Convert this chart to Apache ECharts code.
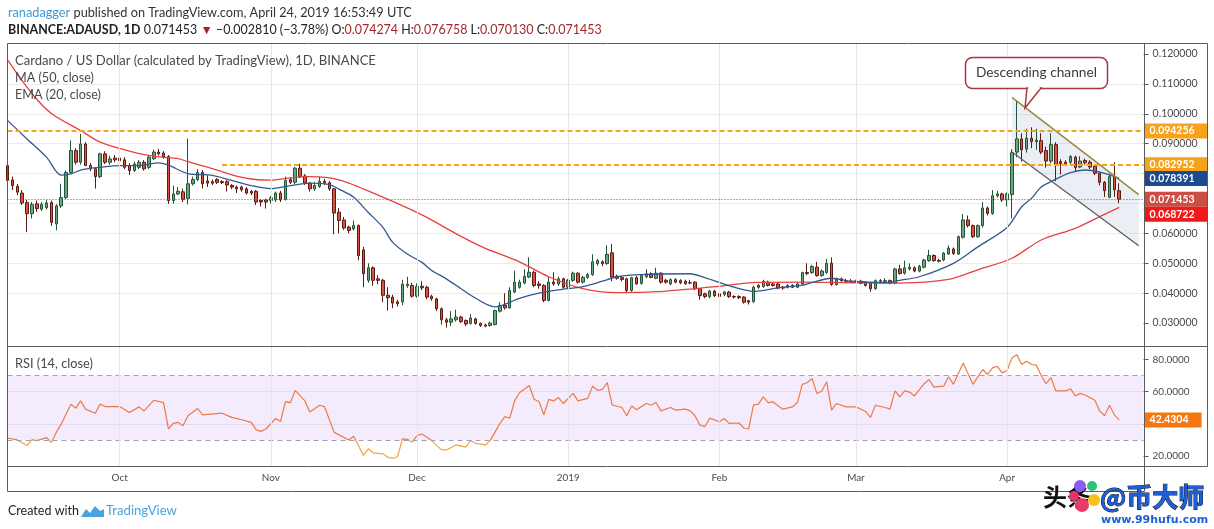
<!DOCTYPE html>
<html><head><meta charset="utf-8">
<script src="https://cdn.jsdelivr.net/npm/echarts@6/dist/echarts.min.js"></script>
<style>html,body{margin:0;padding:0;background:#fff;overflow:hidden}#chart{width:1214px;height:529px}</style>
</head><body><div id="chart"></div>
<script>
// ---------------- data ----------------
const startDate = '2018-09-08';
const dayCount = 234;
const monthNames = ['Jan','Feb','Mar','Apr','May','Jun','Jul','Aug','Sep','Oct','Nov','Dec'];

const openP = [
0.0827,0.0779,0.0757,0.0735,0.0703,0.0666,0.0699,0.0681,0.0686,0.0703,
0.0632,0.0692,0.0720,0.0804,0.0877,0.0838,0.0899,0.0827,0.0816,0.0790,
0.0866,0.0838,0.0852,0.0852,0.0846,0.0827,0.0810,0.0821,0.0838,0.0821,
0.0850,0.0872,0.0869,0.0857,0.0710,0.0732,0.0739,0.0717,0.0766,0.0780,
0.0804,0.0775,0.0773,0.0780,0.0773,0.0773,0.0760,0.0755,0.0755,0.0749,
0.0740,0.0741,0.0710,0.0712,0.0710,0.0712,0.0735,0.0714,0.0780,0.0771,
0.0818,0.0792,0.0768,0.0749,0.0757,0.0774,0.0769,0.0749,0.0671,0.0645,
0.0621,0.0615,0.0626,0.0545,0.0443,0.0485,0.0448,0.0443,0.0393,0.0387,
0.0371,0.0371,0.0425,0.0426,0.0390,0.0423,0.0420,0.0390,0.0381,0.0348,
0.0311,0.0303,0.0311,0.0320,0.0309,0.0299,0.0314,0.0299,0.0294,0.0292,
0.0295,0.0340,0.0359,0.0351,0.0404,0.0420,0.0434,0.0454,0.0470,0.0431,
0.0426,0.0376,0.0437,0.0431,0.0448,0.0420,0.0443,0.0467,0.0437,0.0453,
0.0462,0.0499,0.0505,0.0499,0.0535,0.0457,0.0452,0.0448,0.0409,0.0452,
0.0433,0.0455,0.0465,0.0450,0.0467,0.0443,0.0431,0.0445,0.0442,0.0440,
0.0435,0.0437,0.0415,0.0398,0.0389,0.0407,0.0398,0.0396,0.0404,0.0389,
0.0389,0.0387,0.0375,0.0372,0.0426,0.0422,0.0437,0.0431,0.0431,0.0420,
0.0420,0.0426,0.0420,0.0431,0.0469,0.0469,0.0487,0.0459,0.0469,0.0500,
0.0429,0.0448,0.0442,0.0440,0.0438,0.0440,0.0437,0.0433,0.0415,0.0442,
0.0438,0.0442,0.0433,0.0481,0.0467,0.0481,0.0485,0.0474,0.0487,0.0509,
0.0526,0.0509,0.0511,0.0531,0.0548,0.0531,0.0587,0.0645,0.0626,0.0589,
0.0626,0.0685,0.0667,0.0726,0.0732,0.0712,0.0730,0.0872,0.0916,0.0882,
0.0918,0.0907,0.0910,0.0877,0.0842,0.0897,0.0840,0.0838,0.0838,0.0855,
0.0822,0.0844,0.0838,0.0825,0.0801,0.0771,0.0721,0.0790,0.074274];

const closeP = [
0.0777,0.0760,0.0738,0.0702,0.0666,0.0697,0.0683,0.0697,0.0702,0.0637,
0.0692,0.0720,0.0804,0.0877,0.0838,0.0899,0.0827,0.0816,0.0790,0.0866,
0.0838,0.0849,0.0846,0.0843,0.0821,0.0810,0.0832,0.0838,0.0816,0.0855,
0.0872,0.0866,0.0855,0.0710,0.0732,0.0741,0.0714,0.0766,0.0780,0.0804,
0.0766,0.0768,0.0768,0.0771,0.0770,0.0762,0.0755,0.0749,0.0746,0.0735,
0.0735,0.0705,0.0705,0.0705,0.0719,0.0735,0.0712,0.0777,0.0771,0.0818,
0.0790,0.0768,0.0749,0.0760,0.0774,0.0769,0.0749,0.0668,0.0643,0.0618,
0.0610,0.0626,0.0526,0.0465,0.0485,0.0443,0.0443,0.0393,0.0385,0.0367,
0.0365,0.0430,0.0430,0.0390,0.0423,0.0418,0.0387,0.0382,0.0348,0.0311,
0.0303,0.0314,0.0320,0.0305,0.0297,0.0317,0.0299,0.0292,0.0290,0.0300,
0.0342,0.0359,0.0351,0.0409,0.0437,0.0437,0.0456,0.0470,0.0426,0.0426,
0.0376,0.0437,0.0431,0.0448,0.0420,0.0443,0.0467,0.0437,0.0453,0.0462,
0.0505,0.0509,0.0499,0.0530,0.0454,0.0450,0.0446,0.0409,0.0452,0.0431,
0.0459,0.0465,0.0453,0.0467,0.0437,0.0437,0.0445,0.0437,0.0435,0.0432,
0.0434,0.0415,0.0392,0.0389,0.0407,0.0392,0.0389,0.0404,0.0389,0.0387,
0.0385,0.0370,0.0370,0.0420,0.0420,0.0440,0.0426,0.0426,0.0417,0.0417,
0.0426,0.0420,0.0431,0.0469,0.0466,0.0489,0.0459,0.0474,0.0500,0.0429,
0.0448,0.0442,0.0440,0.0438,0.0440,0.0433,0.0426,0.0415,0.0442,0.0440,
0.0442,0.0433,0.0481,0.0466,0.0485,0.0487,0.0474,0.0490,0.0511,0.0526,
0.0509,0.0507,0.0534,0.0551,0.0533,0.0589,0.0645,0.0626,0.0589,0.0626,
0.0685,0.0667,0.0726,0.0732,0.0712,0.0732,0.0870,0.0916,0.0880,0.0918,
0.0907,0.0912,0.0872,0.0842,0.0897,0.0829,0.0833,0.0833,0.0857,0.0820,
0.0842,0.0836,0.0822,0.0801,0.0771,0.0743,0.0790,0.0746,0.071453];

const lowP = [
0.0760,0.0745,0.0728,0.0695,0.0604,0.0650,0.0672,0.0675,0.0680,0.0625,
0.0610,0.0685,0.0715,0.0800,0.0830,0.0830,0.0825,0.0808,0.0750,0.0785,
0.0832,0.0830,0.0838,0.0835,0.0815,0.0795,0.0805,0.0815,0.0810,0.0815,
0.0845,0.0860,0.0850,0.0699,0.0699,0.0728,0.0705,0.0697,0.0760,0.0775,
0.0750,0.0755,0.0762,0.0765,0.0765,0.0740,0.0748,0.0735,0.0740,0.0730,
0.0728,0.0695,0.0690,0.0683,0.0700,0.0705,0.0705,0.0710,0.0765,0.0765,
0.0785,0.0762,0.0740,0.0742,0.0752,0.0762,0.0742,0.0597,0.0600,0.0612,
0.0600,0.0610,0.0510,0.0420,0.0435,0.0425,0.0430,0.0370,0.0342,0.0350,
0.0355,0.0360,0.0418,0.0385,0.0385,0.0410,0.0380,0.0375,0.0340,0.0295,
0.0285,0.0290,0.0305,0.0300,0.0290,0.0295,0.0295,0.0287,0.0286,0.0288,
0.0292,0.0335,0.0345,0.0348,0.0400,0.0415,0.0430,0.0450,0.0420,0.0415,
0.0370,0.0372,0.0425,0.0425,0.0415,0.0415,0.0438,0.0432,0.0432,0.0448,
0.0458,0.0492,0.0490,0.0495,0.0440,0.0445,0.0440,0.0400,0.0405,0.0428,
0.0428,0.0450,0.0450,0.0447,0.0432,0.0432,0.0427,0.0433,0.0430,0.0428,
0.0430,0.0410,0.0378,0.0383,0.0383,0.0387,0.0383,0.0390,0.0384,0.0382,
0.0380,0.0365,0.0362,0.0368,0.0415,0.0418,0.0422,0.0422,0.0413,0.0412,
0.0416,0.0417,0.0417,0.0428,0.0460,0.0465,0.0455,0.0455,0.0465,0.0425,
0.0425,0.0438,0.0436,0.0435,0.0434,0.0430,0.0422,0.0405,0.0412,0.0436,
0.0434,0.0430,0.0430,0.0462,0.0462,0.0476,0.0470,0.0470,0.0483,0.0505,
0.0505,0.0503,0.0507,0.0528,0.0528,0.0528,0.0583,0.0620,0.0585,0.0585,
0.0620,0.0660,0.0662,0.0720,0.0705,0.0690,0.0650,0.0855,0.0840,0.0870,
0.0885,0.0880,0.0865,0.0820,0.0835,0.0775,0.0797,0.0825,0.0832,0.0805,
0.0818,0.0830,0.0815,0.0795,0.0760,0.0722,0.0718,0.0722,0.070130];

const highP = [
0.0845,0.0790,0.0765,0.0745,0.0712,0.0705,0.0710,0.0705,0.0712,0.0710,
0.0698,0.0766,0.0810,0.0911,0.0885,0.0933,0.0905,0.0835,0.0822,0.0870,
0.0875,0.0860,0.0862,0.0860,0.0855,0.0835,0.0840,0.0845,0.0845,0.0860,
0.0880,0.0883,0.0875,0.0862,0.0760,0.0755,0.0750,0.0917,0.0790,0.0815,
0.0812,0.0794,0.0780,0.0785,0.0778,0.0778,0.0765,0.0760,0.0760,0.0755,
0.0745,0.0745,0.0715,0.0716,0.0725,0.0740,0.0742,0.0790,0.0788,0.0822,
0.0833,0.0798,0.0772,0.0772,0.0790,0.0782,0.0775,0.0752,0.0685,0.0655,
0.0626,0.0643,0.0630,0.0555,0.0500,0.0490,0.0460,0.0448,0.0420,0.0395,
0.0378,0.0445,0.0455,0.0435,0.0433,0.0440,0.0425,0.0395,0.0385,0.0352,
0.0318,0.0340,0.0345,0.0325,0.0312,0.0330,0.0318,0.0302,0.0298,0.0305,
0.0345,0.0370,0.0400,0.0420,0.0475,0.0445,0.0480,0.0520,0.0475,0.0440,
0.0430,0.0455,0.0470,0.0455,0.0452,0.0448,0.0472,0.0470,0.0458,0.0468,
0.0530,0.0515,0.0510,0.0560,0.0565,0.0462,0.0458,0.0452,0.0455,0.0458,
0.0462,0.0480,0.0470,0.0485,0.0470,0.0448,0.0450,0.0450,0.0447,0.0445,
0.0445,0.0440,0.0417,0.0402,0.0411,0.0411,0.0402,0.0408,0.0408,0.0393,
0.0393,0.0390,0.0378,0.0425,0.0430,0.0445,0.0442,0.0435,0.0435,0.0424,
0.0430,0.0430,0.0436,0.0472,0.0500,0.0495,0.0505,0.0480,0.0515,0.0520,
0.0452,0.0452,0.0448,0.0447,0.0445,0.0445,0.0440,0.0436,0.0446,0.0447,
0.0450,0.0446,0.0485,0.0495,0.0509,0.0500,0.0490,0.0495,0.0515,0.0545,
0.0530,0.0515,0.0538,0.0560,0.0553,0.0593,0.0665,0.0660,0.0630,0.0630,
0.0705,0.0690,0.0745,0.0743,0.0736,0.0737,0.0882,0.1045,0.0935,0.0950,
0.0955,0.0950,0.0935,0.0890,0.0935,0.0905,0.0848,0.0845,0.0862,0.0860,
0.0858,0.0850,0.0845,0.0830,0.0805,0.0775,0.0800,0.0838,0.076758];

// MA(50) red line, read at these day indexes
const maIdx = [0,5,9,15,19,23,27,31,35,37,42,46,50,54,58,62,68,76,85,93,98,105,111,118,125,133,144,154,163,173,183,193,199,206,212,219,224,228];
const maVal = [0.1180,0.1068,0.1001,0.0944,0.0905,0.0884,0.0867,0.0856,0.0850,0.0840,0.0817,0.0796,0.0782,0.0778,0.0786,0.0790,0.0779,0.0728,0.0662,0.0590,0.0550,0.0505,0.0455,0.0415,0.0402,0.0405,0.0420,0.0436,0.0437,0.0435,0.0434,0.0446,0.0478,0.0517,0.0578,0.0617,0.0656,0.068722];

// EMA(20) blue line
const emaIdx = [0,4,8,11,13,15,19,23,27,31,33,37,42,46,50,54,58,62,66,68,71,74,77,79,82,85,87,90,93,95,100,105,109,113,118,122,125,130,140,143,149,153,158,163,169,173,180,183,187,194,199,205,208,210,212,214,218,221,225,228];
const emaVal = [0.0978,0.0916,0.0855,0.0795,0.0799,0.0812,0.0821,0.0827,0.0827,0.0836,0.0828,0.0800,0.0794,0.0777,0.0760,0.0750,0.0760,0.0768,0.0763,0.0748,0.0721,0.0670,0.0620,0.0570,0.0531,0.0503,0.0476,0.0448,0.0415,0.0393,0.0354,0.0383,0.0400,0.0411,0.0422,0.0440,0.0455,0.0462,0.0465,0.0452,0.0420,0.0406,0.0418,0.0427,0.0450,0.0440,0.0435,0.0443,0.0455,0.0500,0.0555,0.0620,0.0689,0.0717,0.0755,0.0773,0.0803,0.0812,0.0801,0.078391];

// RSI(14)
const rsiIdx = [0,2,4,5,6,8,9,10,11,13,14,15,16,18,19,20,23,25,27,28,30,32,33,34,35,36,37,39,40,44,46,48,50,51,52,53,55,56,57,58,59,61,62,64,65,67,70,71,73,74,75,77,78,79,80,81,82,83,84,85,87,89,90,92,94,95,96,98,99,101,102,103,104,105,107,108,109,110,111,112,113,114,116,117,119,120,121,122,123,124,126,127,128,129,131,132,133,134,136,137,139,140,141,142,143,144,146,147,148,150,151,152,153,154,155,156,157,159,161,162,163,164,165,166,167,168,169,170,172,174,176,177,178,180,181,182,183,184,185,186,188,189,190,192,193,194,196,198,200,201,202,203,204,205,206,207,208,209,210,211,212,213,214,215,217,218,219,220,221,223,224,225,226,227,228];
const rsiVal = [31.2,30,26.5,30,29.6,31.4,28.4,34.7,39.8,52.2,49.7,54.2,49.1,46.6,52.2,50.7,50.7,47,50.5,48,54.6,53.2,36.8,40.3,40.9,38.8,45,49.5,45.6,46.6,44,42.5,40.9,36.2,35.3,36.8,43.3,41.5,53.8,53,60.8,54.2,47.4,51.5,50.7,34.7,30,32.3,20.4,24.5,22,21.4,19.3,18.5,19.7,30.6,30.4,28.6,32.7,33.7,29.6,23.8,23.8,26.9,25.5,29.6,27.9,26.9,29.6,40.3,44.4,43.5,54.2,59.3,63.8,55.2,53.8,45.6,55.2,54.2,56.3,52.6,58.9,54.2,55.8,63.4,60.8,61.4,65.5,51.7,50.1,45,51.1,48.7,52.6,51.7,53.2,48,50.1,48.5,49.1,48,45,39.2,38.2,43.5,41.3,43.3,40.3,40.5,37.4,36.8,51.7,52.2,56.7,53.2,53.6,49.1,50.5,53.2,64.5,65.5,68.2,58.7,60.4,66.1,48.5,52.6,50.5,50.5,47.6,44,51.5,50.1,49.1,60.4,56.7,60.4,59.7,57.3,64.9,67.5,62.8,63.4,69.2,64.5,77.8,64.5,73.7,70.6,74.7,75.7,71.6,73.1,80.9,82.9,76.8,78.8,76.8,76.4,70,64.9,68.6,60.4,60.4,61.8,57.3,58.9,57.9,54.6,48,45,51.5,45.6,42.4304];

const priceTicks = [0.03,0.04,0.05,0.06,0.07,0.08,0.09,0.10,0.11,0.12];
const rsiTicks = [20,40,60,80];
const levelHigh = 0.094256;
const levelMid = 0.082952;
const levelMidStartIdx = 44;
const lastClose = 0.071453;
const chanIdx = [206, 232];
const chanUpper = [0.1055, 0.0730];
const chanLower = [0.0872, 0.0559];

// ---------------- helpers ----------------
const FONT = 'Lato';
const mctx = document.createElement('canvas').getContext('2d');
function measure(t, size, bold){ mctx.font = (bold ? 'bold ' : '') + size + 'px ' + FONT; return mctx.measureText(t).width; }
function fitSize(t, w, bold){ return +(20 * w / measure(t, 20, bold)).toFixed(2); }

const N = dayCount;
const cats = [];
const d0 = new Date(startDate + 'T00:00:00Z');
for (let i = 0; i < N; i++) cats.push(new Date(d0.getTime() + i * 86400000).toISOString().slice(0, 10));
const monthStarts = [];
cats.forEach((c, i) => { if (c.slice(8) === '01') monthStarts.push(i); });
function monthLabel(c){ const m = +c.slice(5, 7); return m === 1 ? c.slice(0, 4) : monthNames[m - 1]; }
function pairs(idx, val){ return idx.map((k, j) => [cats[k], val[j]]); }

const candleData = openP.map((o, i) => [o, closeP[i], lowP[i], highP[i]]);

// layout: grids extend beyond the visible panes so that round tick values line up
const MAIN_GRID = {top: 24.1, bottom: 176};      // 0.13 .. 0.02
const RSI_GRID = {top: 327.1, bottom: 40.7};     // 100 .. 0
const CHART_H = 529;
const MAIN_TOP = 0.12368, MAIN_BOT = 0.02234;    // values at pane borders
const RSI_TOP = 88.25, RSI_BOT = 13.8;
const rsiPx = v => RSI_GRID.top + (100 - v) / 100 * (CHART_H - RSI_GRID.bottom - RSI_GRID.top);
const rsiSplit = rsiPx(30) / CHART_H;

const AXIS_FS = fitSize('0.120000', 45);
const RSI_FS = fitSize('80.0000', 37);
const TAG_FS = fitSize('0.094256', 45, true);
const TIME_FS = fitSize('2019', 23);
const TXT = '#4a4a4a';
const CLEAR = 'rgba(0,0,0,0)';

function tag(bg, text, extra){
  return Object.assign({show: true, position: 'end', formatter: text, backgroundColor: bg, color: '#fff',
    fontWeight: 'bold', fontFamily: FONT, fontSize: TAG_FS, padding: [2, 4, 1, 5], distance: 1,
    width: 54, lineHeight: 12, opacity: 1}, extra || {});
}
const noLabel = {show: false};
const ORANGE_DASH = {color: '#f7a21b', width: 2, type: [5, 3]};
const GRIDV = {color: '#e6e6e6', width: 1, type: 'solid'};

const vMain = monthStarts.map(i => [{coord: [cats[i], MAIN_TOP], lineStyle: GRIDV, label: noLabel}, {coord: [cats[i], MAIN_BOT]}]);
const vRsi = monthStarts.map(i => [{coord: [cats[i], RSI_TOP], lineStyle: GRIDV, label: noLabel}, {coord: [cats[i], RSI_BOT]}]);

const xBase = {type: 'category', data: cats, boundaryGap: false,
  axisLine: {show: false}, axisTick: {show: false}, splitLine: {show: false}};

// ---------------- graphic (frame, texts) ----------------
const LINE = '#5c5c5c';
function ln(x1, y1, x2, y2, c, w){ return {type: 'line', silent: true, z: 50, shape: {x1, y1, x2, y2}, style: {stroke: c || LINE, lineWidth: w || 1}}; }
function txt(x, y, text, size, fill, extra, z){
  return {type: 'text', x, y, silent: true, z: z || 55, style: Object.assign({text, fontSize: size, fontFamily: FONT, fill: fill || TXT, verticalAlign: 'middle'}, extra || {})};
}

const h1a = 'ranadagger', h1b = ' published on TradingView.com, April 24, 2019 16:53:49 UTC';
const h1fs = +(20 * 404 / measure(h1a + h1b, 20, false)).toFixed(2);
const h2bold = 'BINANCE:ADAUSD, 1D';
const h2parts = [' 0.071453 ', '▼', ' −0.002810 (−3.78%) ', 'O:', '0.074274', ' H:', '0.076758', ' L:', '0.070130', ' C:', '0.071453'];
const h2fs = +(20 * 594 / (measure(h2bold, 20, true) + measure(h2parts.join(''), 20, false))).toFixed(2);
const RED = '#a3262a', DARK = '#222';

const graphics = [
  // frame
  ln(7.5, 43.5, 1207.5, 43.5), ln(7.5, 43.5, 7.5, 491.5), ln(1207.5, 43.5, 1207.5, 466.5),
  ln(1144.5, 43.5, 1144.5, 491.5), ln(7.5, 346.5, 1207.5, 346.5), ln(7.5, 466.5, 1207.5, 466.5),
  ln(7.5, 491.5, 1144.5, 491.5),
  // header
  {type: 'text', x: 8, y: 13, silent: true, z: 55, style: {text: '{a|' + h1a + '}{b|' + h1b + '}', verticalAlign: 'middle',
    rich: {a: {fill: '#3d9ad6', fontSize: h1fs, fontFamily: FONT}, b: {fill: '#333', fontSize: h1fs, fontFamily: FONT}}}},
  {type: 'text', x: 8, y: 30, silent: true, z: 55, style: {
    text: '{b|' + h2bold + '}{n|' + h2parts[0] + '}{r|' + h2parts[1] + '}{n|' + h2parts[2] + '}{n|' + h2parts[3] + '}{r|' + h2parts[4] + '}{n|' + h2parts[5] + '}{r|' + h2parts[6] + '}{n|' + h2parts[7] + '}{r|' + h2parts[8] + '}{n|' + h2parts[9] + '}{r|' + h2parts[10] + '}',
    verticalAlign: 'middle',
    rich: {b: {fill: DARK, fontWeight: 'bold', fontSize: h2fs, fontFamily: FONT},
           n: {fill: DARK, fontSize: h2fs, fontFamily: FONT},
           r: {fill: RED, fontSize: h2fs, fontFamily: FONT}}}},
  // pane legends
  txt(15, 61, 'Cardano / US Dollar (calculated by TradingView), 1D, BINANCE', fitSize('Cardano / US Dollar (calculated by TradingView), 1D, BINANCE', 361)),
  txt(15, 78, 'MA (50, close)', fitSize('MA (50, close)', 79)),
  txt(15, 95, 'EMA (20, close)', fitSize('EMA (20, close)', 86)),
  txt(15, 364, 'RSI (14, close)', fitSize('RSI (14, close)', 78)),
  // callout
  {type: 'rect', silent: true, z: 60, shape: {x: 965.5, y: 57.5, width: 142, height: 31, r: 7}, style: {fill: '#fff', stroke: '#a8393c', lineWidth: 1.5}},
  {type: 'polygon', silent: true, z: 60, shape: {points: [[1027, 88], [1025, 108], [1041, 88]]}, style: {fill: '#fff', stroke: '#a8393c', lineWidth: 1.5}},
  {type: 'rect', silent: true, z: 61, shape: {x: 1028.3, y: 86.2, width: 11.4, height: 3}, style: {fill: '#fff'}},
  txt(1036.5, 73, 'Descending channel', fitSize('Descending channel', 121), '#3a3a3a', {align: 'center'}, 62),
  // footer
  txt(8, 511, 'Created with', fitSize('Created with', 71), '#222'),
  {type: 'polygon', silent: true, z: 55, shape: {points: [[81, 517], [86, 509], [90, 513], [95, 506], [100, 511], [104, 509], [104, 517]]}, style: {fill: '#4aa3df'}},
  txt(106, 511, 'TradingView', fitSize('TradingView', 71), '#4aa3df'),
  // watermark
  txt(1043, 497, '头条', 24, '#111', {fontFamily: 'Noto Sans CJK SC', fontWeight: 'bold'}),
  {type: 'circle', silent: true, z: 56, shape: {cx: 1080, cy: 486, r: 6}, style: {fill: '#8a5cf0'}},
  {type: 'circle', silent: true, z: 56, shape: {cx: 1092, cy: 486, r: 5}, style: {fill: '#2cc07a'}},
  {type: 'circle', silent: true, z: 56, shape: {cx: 1094, cy: 500, r: 6}, style: {fill: '#f5c21b'}},
  {type: 'circle', silent: true, z: 56, shape: {cx: 1082, cy: 505, r: 7}, style: {fill: '#ea3a6a'}},
  {type: 'circle', silent: true, z: 56, shape: {cx: 1074, cy: 496, r: 5}, style: {fill: '#e8336d'}},
  txt(1100, 497, '@币大师', 26, '#1d5fd8', {fontFamily: 'Noto Sans CJK SC', fontWeight: 'bold', stroke: '#111', lineWidth: 1}),
  txt(1101, 520, 'www.99hufu.com', 11, '#1d5fd8', {fontFamily: 'DejaVu Sans', fontWeight: 'bold'})
];

// RSI line: warmer orange above 30, lighter amber below 30
const rsiColor = {type: 'linear', x: 0, y: 0, x2: 0, y2: CHART_H, global: true, colorStops: [
  {offset: 0, color: '#ec7a48'}, {offset: rsiSplit, color: '#ec7a48'},
  {offset: rsiSplit, color: '#f3a23e'}, {offset: 1, color: '#f3a23e'}]};

// ---------------- option ----------------
const option = {
  animation: false,
  backgroundColor: '#ffffff',
  grid: [
    {left: 7.5, right: 70.4, top: MAIN_GRID.top, bottom: MAIN_GRID.bottom},
    {left: 7.5, right: 70.4, top: RSI_GRID.top, bottom: RSI_GRID.bottom}
  ],
  xAxis: [
    Object.assign({}, xBase, {gridIndex: 0, axisLabel: {show: false}}),
    Object.assign({}, xBase, {gridIndex: 1, offset: -22.3,
      axisLabel: {show: true, interval: (i, v) => v.slice(8) === '01', formatter: v => monthLabel(v),
        color: TXT, fontFamily: FONT, fontSize: TIME_FS, margin: 7}})
  ],
  yAxis: [
    {gridIndex: 0, type: 'value', position: 'right', min: 0.02, max: 0.13, interval: 0.01,
      axisLine: {show: false},
      axisTick: {show: true, length: 5, lineStyle: {color: LINE}, customValues: priceTicks},
      axisLabel: {color: TXT, fontFamily: FONT, fontSize: AXIS_FS, margin: 9, showMinLabel: false, showMaxLabel: false,
        formatter: v => { const k = Math.round(v * 100); return (k === 7 || k === 8 || k < 3 || k > 12) ? '' : v.toFixed(6); }},
      splitLine: {show: true, showMinLine: false, showMaxLine: false, lineStyle: {color: '#ececec', width: 1}}},
    {gridIndex: 1, type: 'value', position: 'right', min: 0, max: 100, interval: 20,
      axisLine: {show: false},
      axisTick: {show: true, length: 5, lineStyle: {color: LINE}, customValues: rsiTicks},
      axisLabel: {color: TXT, fontFamily: FONT, fontSize: RSI_FS, margin: 9, showMinLabel: false, showMaxLabel: false,
        formatter: v => (v === 20 || v === 60 || v === 80) ? v.toFixed(4) : ''},
      splitLine: {show: true, showMinLine: false, showMaxLine: false, lineStyle: {color: '#ececec', width: 1}}}
  ],
  graphic: graphics,
  series: [
    // 0: month grid lines, main pane
    {type: 'scatter', xAxisIndex: 0, yAxisIndex: 0, data: [], z: 0, silent: true,
      markLine: {silent: true, symbol: ['none', 'none'], precision: 6, label: noLabel, data: vMain}},
    // 1: channel fill
    {type: 'custom', xAxisIndex: 0, yAxisIndex: 0, z: 1, silent: true, data: [[0]],
      renderItem: (params, api) => {
        const a = api.coord([chanIdx[0], chanUpper[0]]), b = api.coord([chanIdx[1], chanUpper[1]]);
        const c = api.coord([chanIdx[1], chanLower[1]]), d = api.coord([chanIdx[0], chanLower[0]]);
        return {type: 'polygon', shape: {points: [a, b, c, d]}, style: {fill: 'rgba(120,138,180,0.15)'}};
      }},
    // 2: candles
    {type: 'candlestick', xAxisIndex: 0, yAxisIndex: 0, z: 2, barWidth: 3, data: candleData,
      itemStyle: {color: '#6ba583', color0: '#d75442', borderColor: '#225437', borderColor0: '#5b1a13', borderWidth: 1}},
    // 3: MA 50
    {type: 'line', name: 'MA (50, close)', xAxisIndex: 0, yAxisIndex: 0, z: 3, data: pairs(maIdx, maVal),
      symbol: 'none', smooth: 0.3, lineStyle: {color: '#e84040', width: 1.3}},
    // 4: EMA 20
    {type: 'line', name: 'EMA (20, close)', xAxisIndex: 0, yAxisIndex: 0, z: 3, data: pairs(emaIdx, emaVal),
      symbol: 'none', smooth: 0.3, lineStyle: {color: '#32598f', width: 1.3}},
    // 5,6: channel lines
    {type: 'line', xAxisIndex: 0, yAxisIndex: 0, z: 4, silent: true, symbol: 'none',
      data: [[cats[chanIdx[0]], chanUpper[0]], [cats[chanIdx[1]], chanUpper[1]]], lineStyle: {color: '#948a3c', width: 1.5}},
    {type: 'line', xAxisIndex: 0, yAxisIndex: 0, z: 4, silent: true, symbol: 'none',
      data: [[cats[chanIdx[0]], chanLower[0]], [cats[chanIdx[1]], chanLower[1]]], lineStyle: {color: '#5a5e60', width: 1.3}},
    // 7: price levels and right-side tags
    {type: 'scatter', xAxisIndex: 0, yAxisIndex: 0, data: [], z: 8, silent: true,
      markLine: {silent: true, symbol: ['none', 'none'], precision: 6, data: [
        {yAxis: levelHigh, lineStyle: ORANGE_DASH, label: tag('#f7a21b', levelHigh.toFixed(6))},
        [{coord: [cats[levelMidStartIdx], levelMid], lineStyle: ORANGE_DASH, label: tag('#f7a21b', levelMid.toFixed(6))}, {coord: [cats[N - 1], levelMid]}],
        {yAxis: lastClose, lineStyle: {color: '#c0392b', width: 1, type: [1, 2]}, label: tag('#cc4d43', lastClose.toFixed(6))},
        {yAxis: emaVal[emaVal.length - 1], lineStyle: {color: CLEAR, width: 1}, label: tag('#1b4a8f', emaVal[emaVal.length - 1].toFixed(6))},
        {yAxis: maVal[maVal.length - 1], lineStyle: {color: CLEAR, width: 1}, label: tag('#f01818', maVal[maVal.length - 1].toFixed(6), {offset: [0, 7]})}
      ]}},
    // 8: RSI helper (band, guides, gridlines)
    {type: 'scatter', xAxisIndex: 1, yAxisIndex: 1, data: [], z: 0, silent: true,
      markArea: {silent: true, itemStyle: {color: 'rgba(170,100,230,0.13)'}, data: [[{yAxis: 30}, {yAxis: 70}]]},
      markLine: {silent: true, symbol: ['none', 'none'], precision: 4, label: noLabel, data: [
        {yAxis: 70, lineStyle: {color: '#a59cb6', width: 1, type: [5, 4]}},
        {yAxis: 30, lineStyle: {color: '#a59cb6', width: 1, type: [5, 4]}}
      ].concat(vRsi)}},
    // 9: RSI line
    {type: 'line', name: 'RSI (14, close)', xAxisIndex: 1, yAxisIndex: 1, z: 3, data: pairs(rsiIdx, rsiVal),
      symbol: 'none', lineStyle: {width: 1.2, color: rsiColor}},
    // 10: RSI tag
    {type: 'scatter', xAxisIndex: 1, yAxisIndex: 1, data: [], z: 8, silent: true,
      markLine: {silent: true, symbol: ['none', 'none'], precision: 4, data: [
        {yAxis: rsiVal[rsiVal.length - 1], lineStyle: {color: CLEAR, width: 1}, label: tag('#f5770f', rsiVal[rsiVal.length - 1].toFixed(4), {width: 48})}
      ]}}
  ]
};

const chart = echarts.init(document.getElementById('chart'));
chart.setOption(option);
</script>
</body></html>
